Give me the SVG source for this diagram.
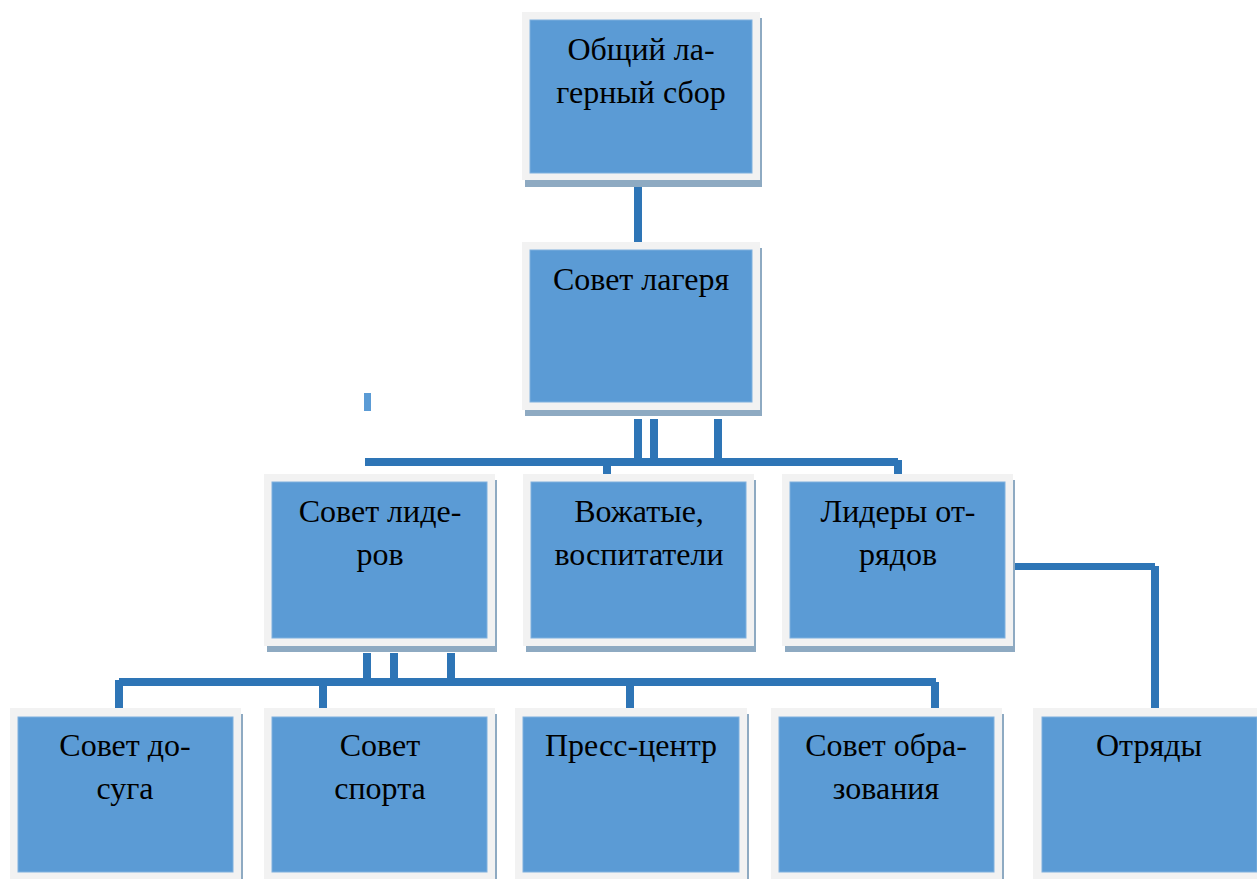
<svg xmlns="http://www.w3.org/2000/svg" width="1257" height="879" viewBox="0 0 1257 879">
<style>
.sh{fill:#8eaac2}
.fr{fill:#f2f2f2}
.bx{fill:#5b9bd5;stroke:#7fb0de;stroke-width:1}
.t{font-family:"Liberation Serif","Times New Roman","DejaVu Serif",serif;font-size:32px;fill:#000;text-anchor:middle}
.c{fill:#2e75b6}
</style>
<rect width="1257" height="879" fill="#fff"/>
<g id="connectors">
<rect class="c" x="634" y="187" width="8" height="58"/>
<rect x="364" y="393" width="7" height="18" fill="#5b9bd5"/>
<rect class="c" x="634" y="419" width="8" height="42"/>
<rect class="c" x="650" y="419" width="8" height="42"/>
<rect class="c" x="714" y="419" width="8" height="42"/>
<rect class="c" x="365" y="458" width="533" height="8"/>
<rect class="c" x="603" y="463" width="8" height="11"/>
<rect class="c" x="894" y="460" width="8" height="15"/>
<rect class="c" x="363" y="653" width="8" height="28"/>
<rect class="c" x="390" y="653" width="8" height="28"/>
<rect class="c" x="447" y="653" width="8" height="28"/>
<rect class="c" x="119" y="678" width="817" height="8"/>
<rect class="c" x="115" y="680" width="8" height="28"/>
<rect class="c" x="319" y="682" width="8" height="28"/>
<rect class="c" x="626" y="682" width="8" height="26"/>
<rect class="c" x="931" y="682" width="8" height="26"/>
<rect class="c" x="1010" y="563" width="145" height="7"/>
<rect class="c" x="1151" y="566" width="8" height="142"/>
</g>
<g id="n1">
<rect class="sh" x="525" y="18" width="237" height="169"/>
<rect class="fr" x="522" y="12" width="238" height="168"/>
<rect class="bx" x="530" y="20" width="222" height="153"/>
<text class="t" x="641" y="60">Общий ла-</text>
<text class="t" x="641" y="103">герный сбор</text>
</g>
<g id="n2">
<rect class="sh" x="525" y="248" width="237" height="168"/>
<rect class="fr" x="522" y="242" width="238" height="168"/>
<rect class="bx" x="530" y="250" width="222" height="152"/>
<text class="t" x="641" y="290">Совет лагеря</text>
</g>
<g id="n3">
<rect class="sh" x="267" y="480" width="230" height="172"/>
<rect class="fr" x="264" y="474" width="231" height="172"/>
<rect class="bx" x="272" y="482" width="215" height="156"/>
<text class="t" x="380" y="522">Совет лиде-</text>
<text class="t" x="380" y="565">ров</text>
</g>
<g id="n4">
<rect class="sh" x="526" y="480" width="230" height="172"/>
<rect class="fr" x="523" y="474" width="231" height="172"/>
<rect class="bx" x="531" y="482" width="215" height="156"/>
<text class="t" x="639" y="522">Вожатые,</text>
<text class="t" x="639" y="565">воспитатели</text>
</g>
<g id="n5">
<rect class="sh" x="785" y="480" width="230" height="172"/>
<rect class="fr" x="782" y="474" width="231" height="172"/>
<rect class="bx" x="790" y="482" width="215" height="156"/>
<text class="t" x="898" y="522">Лидеры от-</text>
<text class="t" x="898" y="565">рядов</text>
</g>
<g id="n6">
<rect class="sh" x="13" y="714" width="230" height="172"/>
<rect class="fr" x="10" y="708" width="231" height="172"/>
<rect class="bx" x="18" y="717" width="215" height="155"/>
<text class="t" x="125" y="756">Совет до-</text>
<text class="t" x="125" y="799">суга</text>
</g>
<g id="n7">
<rect class="sh" x="267" y="714" width="230" height="172"/>
<rect class="fr" x="264" y="708" width="231" height="172"/>
<rect class="bx" x="272" y="717" width="215" height="155"/>
<text class="t" x="380" y="756">Совет</text>
<text class="t" x="380" y="799">спорта</text>
</g>
<g id="n8">
<rect class="sh" x="518" y="714" width="231" height="172"/>
<rect class="fr" x="515" y="708" width="232" height="172"/>
<rect class="bx" x="523" y="717" width="216" height="155"/>
<text class="t" x="631" y="756">Пресс-центр</text>
</g>
<g id="n9">
<rect class="sh" x="774" y="714" width="230" height="172"/>
<rect class="fr" x="771" y="708" width="231" height="172"/>
<rect class="bx" x="779" y="717" width="215" height="155"/>
<text class="t" x="886" y="756">Совет обра-</text>
<text class="t" x="886" y="799">зования</text>
</g>
<g id="n10">
<rect class="fr" x="1033" y="708" width="232" height="172"/>
<rect class="bx" x="1042" y="717" width="215" height="155"/>
<text class="t" x="1149" y="756">Отряды</text>
</g>
</svg>
